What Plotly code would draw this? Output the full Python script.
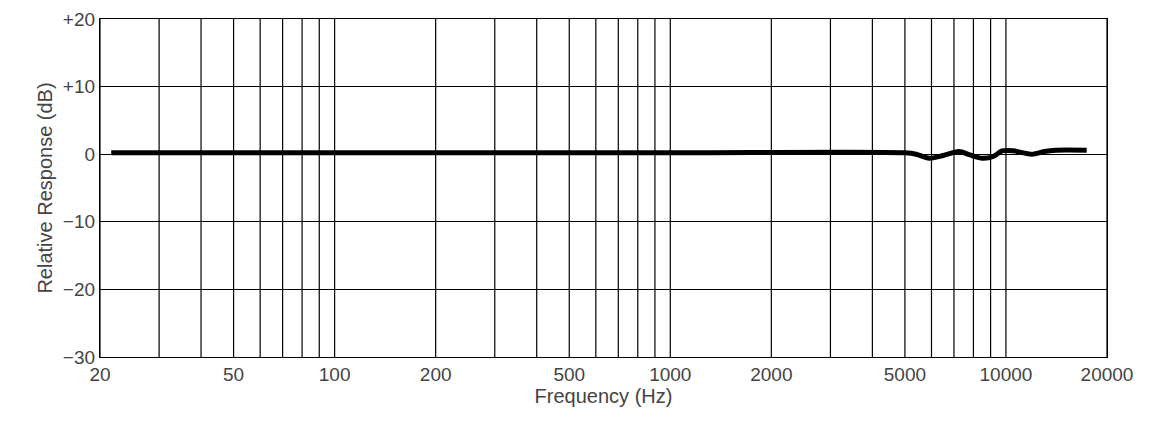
import plotly.graph_objects as go

# frequency response
freq_hz = [21.6, 100, 1000, 5000, 5400, 5900, 6500, 7250, 7800, 8500, 9200, 9730, 10500, 11960, 13000, 14100, 17400]
response_db = [0.2, 0.2, 0.2, 0.2, 0.0, -0.6, -0.2, 0.4, -0.1, -0.6, -0.3, 0.5, 0.5, 0.0, 0.4, 0.6, 0.6]

x_ticks = [20, 50, 100, 200, 500, 1000, 2000, 5000, 10000, 20000]
y_ticks = [-30, -20, -10, 0, 10, 20]
y_labels = ["\u221230", "\u221220", "\u221210", "0", "+10", "+20"]

grid_x = [m * 10 ** e for e in range(1, 5) for m in range(1, 10) if 20 <= m * 10 ** e <= 20000]

fig = go.Figure()
fig.add_trace(go.Scatter(x=freq_hz, y=response_db, mode="lines",
                         line=dict(color="black", width=5, shape="spline", smoothing=0.8),
                         hoverinfo="skip"))

for g in grid_x:
    fig.add_vline(x=g, line=dict(color="black", width=1.2), layer="below")

# page body adds ~8px offset, so margins are shifted to compensate
fig.update_layout(
    width=1160, height=429,
    margin=dict(l=92, r=61, t=11, b=80),
    paper_bgcolor="white", plot_bgcolor="white",
    showlegend=False,
    font=dict(family="Liberation Sans, Arial, sans-serif", size=17, color="#444"),
)
fig.update_xaxes(type="log", range=[1.30103, 4.30103], tickvals=x_ticks,
                 ticktext=[str(t) for t in x_ticks], showgrid=False, automargin=False,
                 tickfont=dict(size=19),
                 showline=True, linecolor="black", linewidth=1.2, mirror=True,
                 title=dict(text="Frequency (Hz)", standoff=2), ticks="")
fig.update_yaxes(range=[-30, 20], tickvals=y_ticks, ticktext=y_labels, automargin=False,
                 tickfont=dict(size=19),
                 showgrid=True, gridcolor="black", gridwidth=1.2, zeroline=False,
                 showline=True, linecolor="black", linewidth=1.2, mirror=True,
                 title=dict(text="Relative Response (dB)", standoff=4), ticks="")

fig.write_html("out.html")
